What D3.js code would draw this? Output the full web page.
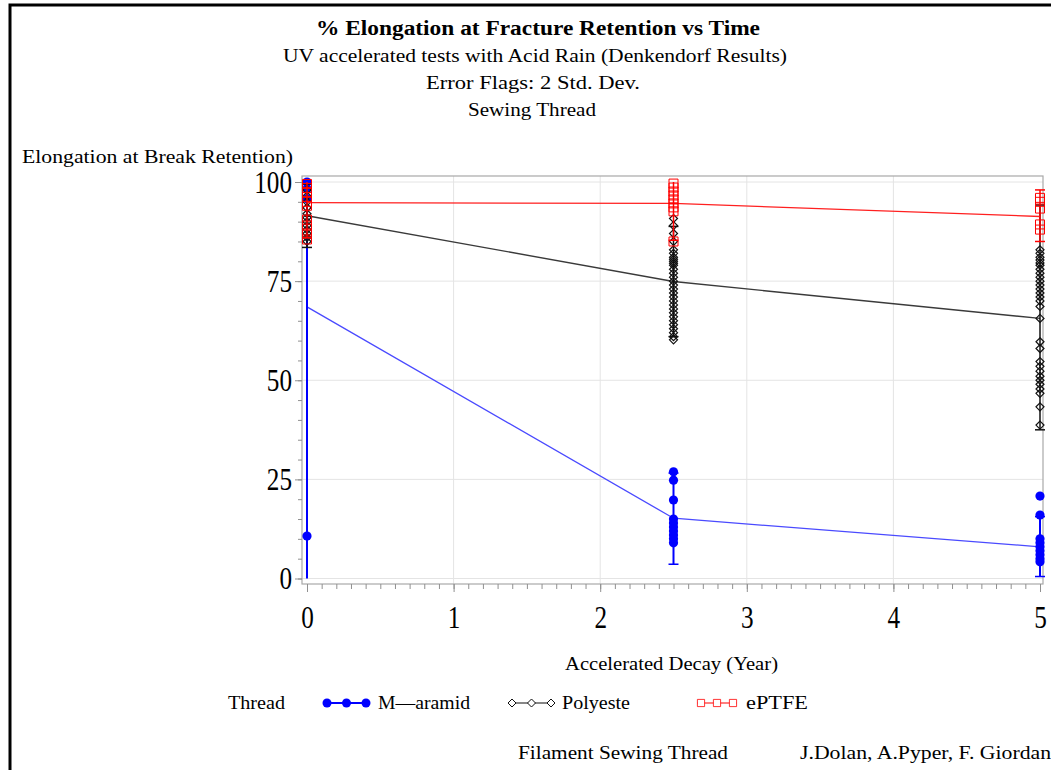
<!DOCTYPE html>
<html>
<head>
<meta charset="utf-8">
<script src="https://cdn.jsdelivr.net/npm/d3@7"></script>
<style>
  body { margin: 0; background: #fff; }
  svg { display: block; font-family: "Liberation Serif", "DejaVu Serif", serif; }
</style>
</head>
<body>
<svg id="chart" width="1051" height="770"></svg>
<script>
// times of the three test points
const times = [0, 2.5, 5];

// M-aramid
const aramidMean = [68.5, 15.2, 8.0];
const aramidLo   = [0, 3.6, 0.5];
const aramidHi   = [100, 26.6, 15.6];
const aramidPts  = [
  [100, 98.3, 95.8, 10.7],
  [26.9, 24.8, 19.8, 15, 14, 13, 12, 11, 10, 9],
  [20.8, 16, 10, 9, 8, 7, 6, 5, 4.2]
];

// Polyester
const polyMean = [91.5, 74.9, 65.6];
const polyLo   = [83.5, 61, 37.5];
const polyHi   = [99.5, 88.8, 94.2];
const polyPts  = [
  [98, 96.5, 95, 93.5, 92, 91, 90, 89, 88, 87, 86, 85],
  [90.8, 89, 87, 85, 82.9, 82, 81, 80.5, 80, 79.5, 79, 78, 77, 76, 75, 74, 73, 72, 71, 70, 69, 68, 67, 66, 65, 64, 63, 62, 61, 60.2],
  [82.9, 82, 81, 80.3, 79.6, 79, 78, 77, 76, 75, 74, 73, 72, 71, 70, 68.6, 65.6, 59.7, 58, 54.7, 53.5, 52.3, 51, 50, 49, 47.8, 46.7, 43.3, 38.7]
];

// ePTFE
const pteMean = [94.8, 94.6, 91.3];
const pteLo   = [86, 85.3, 85];
const pteHi   = [100, 100, 98];
const ptePts  = [
  [99.5, 98.5, 97.5, 96.2, 95, 94, 90.5, 89, 87, 85.5],
  [99.6, 98.6, 97.6, 96.6, 95.6, 94.6, 93.6, 92.6, 85],
  [96, 95, 93.3, 89.3, 88]
];

const xTicks = [0, 1, 2, 3, 4, 5];
const yTicks = [0, 25, 50, 75, 100];

const svg = d3.select('#chart');

// outer frame (only top/left visible)
svg.append('rect')
  .attr('x', 10).attr('y', 5)
  .attr('width', 1100).attr('height', 800)
  .attr('fill', 'none').attr('stroke', '#000').attr('stroke-width', 3);

const x = d3.scaleLinear().domain([0, 5]).range([307, 1040]);
const y = d3.scaleLinear().domain([0, 100]).range([578.5, 182]);
const frame = { left: 302, right: 1043, top: 176, bottom: 584 };

// gridlines
svg.append('g').selectAll('line').data(yTicks).enter().append('line')
  .attr('x1', frame.left).attr('x2', frame.right)
  .attr('y1', d => y(d)).attr('y2', d => y(d))
  .attr('stroke', '#e4e4e4').attr('stroke-width', 1);
svg.append('g').selectAll('line').data(xTicks.slice(1, 5)).enter().append('line')
  .attr('y1', frame.top).attr('y2', frame.bottom)
  .attr('x1', d => x(d)).attr('x2', d => x(d))
  .attr('stroke', '#e4e4e4').attr('stroke-width', 1);

svg.append('rect')
  .attr('x', frame.left).attr('y', frame.top)
  .attr('width', frame.right - frame.left).attr('height', frame.bottom - frame.top)
  .attr('fill', 'none').attr('stroke', '#a8a8a8').attr('stroke-width', 1.2);

// axes
function styleAxis(g) {
  g.select('.domain').remove();
  g.selectAll('.tick line').attr('stroke', '#909090');
}
function styleLabels(g) {
  g.selectAll('text')
    .attr('font-size', '32px').attr('fill', '#000')
    .attr('font-family', '"Liberation Serif", serif')
    .attr('textLength', d => String(d).length * 12.6)
    .attr('lengthAdjust', 'spacingAndGlyphs');
}
svg.append('g')
  .attr('transform', `translate(0,${frame.bottom})`)
  .call(d3.axisBottom(x).tickValues(d3.range(0, 51).map(i => i / 10)).tickSize(5).tickFormat(''))
  .call(styleAxis);
svg.append('g')
  .attr('transform', `translate(0,${frame.bottom})`)
  .call(d3.axisBottom(x).tickValues(xTicks).tickSize(8).tickPadding(13).tickFormat(d3.format('d')))
  .call(styleAxis)
  .call(styleLabels);
svg.append('g')
  .attr('transform', `translate(${frame.left},0)`)
  .call(d3.axisLeft(y).tickValues(d3.range(0, 101, 5)).tickSize(4).tickFormat(''))
  .call(styleAxis);
svg.append('g')
  .attr('transform', `translate(${frame.left},0)`)
  .call(d3.axisLeft(y).tickValues(yTicks).tickSize(7).tickPadding(3).tickFormat(d3.format('d')))
  .call(styleAxis)
  .call(styleLabels);

// series drawing
const diamond = 'M0,-4L4,0L0,4L-4,0Z';
const square = 'M-4.5,-4.5H4.5V4.5H-4.5Z';

function drawSeries(mean, lo, hi, pts, opt) {
  const g = svg.append('g');
  g.append('path')
    .datum(times.map((t, i) => [t, mean[i]]))
    .attr('fill', 'none').attr('stroke', opt.line).attr('stroke-width', opt.lw)
    .attr('d', d3.line().x(d => x(d[0])).y(d => y(d[1])));
  times.forEach((t, i) => {
    const cx = x(t);
    g.append('line')
      .attr('x1', cx).attr('x2', cx).attr('y1', y(lo[i])).attr('y2', y(hi[i]))
      .attr('stroke', opt.bar).attr('stroke-width', opt.bw);
    [lo[i], hi[i]].forEach(v => {
      if (v > 0.2 && v < 99.9) {
        g.append('line')
          .attr('x1', cx - 5).attr('x2', cx + 5).attr('y1', y(v)).attr('y2', y(v))
          .attr('stroke', opt.bar).attr('stroke-width', 1.5);
      }
    });
    g.selectAll(null).data(pts[i]).enter().append(opt.shape ? 'path' : 'circle')
      .each(function(v) {
        const el = d3.select(this);
        if (opt.shape) {
          el.attr('d', opt.shape).attr('transform', `translate(${cx},${y(v)})`)
            .attr('fill', 'none').attr('stroke', opt.bar).attr('stroke-width', opt.mw);
        } else {
          el.attr('cx', cx).attr('cy', y(v)).attr('r', 4.6).attr('fill', opt.bar);
        }
      });
  });
}

drawSeries(aramidMean, aramidLo, aramidHi, aramidPts,
  { line: '#4a4aff', lw: 1.3, bar: '#0000ff', bw: 2, shape: null });
drawSeries(polyMean, polyLo, polyHi, polyPts,
  { line: '#3a3a3a', lw: 1.4, bar: '#111', bw: 1.5, shape: diamond, mw: 1.2 });
drawSeries(pteMean, pteLo, pteHi, ptePts,
  { line: '#ff2020', lw: 1.3, bar: '#ff0000', bw: 1.5, shape: square, mw: 1 });

// texts
function txt(s, xx, yy, size, opts = {}) {
  const t = svg.append('text')
    .attr('x', xx).attr('y', yy)
    .attr('font-size', size + 'px')
    .attr('fill', '#000')
    .attr('text-anchor', opts.anchor || 'start')
    .attr('font-weight', opts.bold ? 'bold' : 'normal')
    .text(s);
  if (opts.len) t.attr('textLength', opts.len).attr('lengthAdjust', 'spacingAndGlyphs');
  return t;
}
txt('% Elongation at Fracture Retention vs Time', 316, 35, 20, { bold: true, len: 444 });
txt('UV accelerated tests with Acid Rain (Denkendorf Results)', 283, 62, 18, { len: 504 });
txt('Error Flags: 2 Std. Dev.', 426, 89, 18, { len: 214 });
txt('Sewing Thread', 468, 116, 18, { len: 128 });
txt('Elongation at Break Retention)', 22, 163, 18, { len: 271 });
txt('Accelerated Decay (Year)', 565, 670, 18, { len: 213 });

// legend
const legendY = 703;
txt('Thread', 228, legendY + 6, 18, { len: 57 });
const legend = [
  { name: 'M\u2014aramid', x0: 323, tx: 378, tl: 92, color: '#0000ff', shape: null },
  { name: 'Polyeste', x0: 508, tx: 562, tl: 68, color: '#111', shape: diamond },
  { name: 'ePTFE', x0: 697, tx: 746, tl: 62, color: '#ff0000', shape: square }
];
legend.forEach(l => {
  const w = l.shape === square ? 40 : 47;
  svg.append('line')
    .attr('x1', l.x0).attr('x2', l.x0 + w).attr('y1', legendY).attr('y2', legendY)
    .attr('stroke', l.color).attr('stroke-width', l.shape ? 1.2 : 2);
  [0, 0.5, 1].forEach(f => {
    const px = l.x0 + 4 + f * (w - 8);
    if (l.shape) {
      svg.append('path').attr('d', l.shape)
        .attr('transform', `translate(${px},${legendY})${l.shape === square ? ' scale(0.8)' : ''}`)
        .attr('fill', '#fff').attr('stroke', l.color).attr('stroke-width', 1);
    } else {
      svg.append('circle').attr('cx', px).attr('cy', legendY).attr('r', 4.5).attr('fill', l.color);
    }
  });
  txt(l.name, l.tx, legendY + 6, 18, { len: l.tl });
});

txt('Filament Sewing Thread', 518, 759, 18, { len: 210 });
txt('J.Dolan, A.Pyper, F. Giordano', 800, 759, 18, { len: 262 });
</script>
</body>
</html>
